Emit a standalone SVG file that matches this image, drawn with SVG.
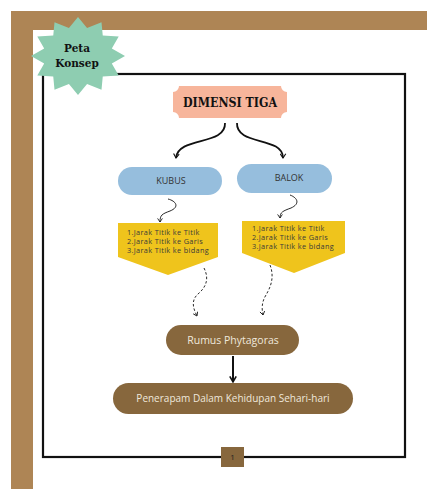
<svg xmlns="http://www.w3.org/2000/svg" width="427" height="489" viewBox="0 0 427 489">
<style>
.frame{fill:#AE8555}
.box{fill:none;stroke:#111;stroke-width:2.2}
.pill-blue{fill:#96BEDD}
.yellow{fill:#EFC41C}
.brown{fill:#87673D}
.lbl{font-family:"Open Sans","Noto Sans",sans-serif;text-anchor:middle}
.blue-t{font-size:9px;fill:#333}
.yt{font-family:"Open Sans","Noto Sans",sans-serif;font-size:7.3px;letter-spacing:0.35px;fill:#3a3a3a}
.brown-t{fill:#EFE8DC}
.conn{fill:none;stroke:#111}
</style>
<defs>
<marker id="chev" viewBox="0 0 10 10" refX="7" refY="5" markerWidth="7" markerHeight="7" orient="auto" markerUnits="userSpaceOnUse">
<path d="M1,1 L7,5 L1,9" fill="none" stroke="#111" stroke-width="1.6"/>
</marker>
<marker id="chevs" viewBox="0 0 10 10" refX="7" refY="5" markerWidth="6" markerHeight="6" orient="auto" markerUnits="userSpaceOnUse">
<path d="M1,1 L7,5 L1,9" fill="none" stroke="#111" stroke-width="1.4"/>
</marker>
<marker id="tri" viewBox="0 0 10 10" refX="8" refY="5" markerWidth="8" markerHeight="8" orient="auto" markerUnits="userSpaceOnUse">
<path d="M1,1 L8,5 L1,9" fill="none" stroke="#111" stroke-width="2"/>
</marker>
</defs>
<rect width="427" height="489" fill="#fff"/>
<g id="frame">
<rect class="frame" x="11" y="11" width="416" height="19"/>
<rect class="frame" x="11" y="11" width="22" height="478"/>
<rect class="box" x="43" y="74" width="362" height="383"/>
</g>
<g id="badge">
<polygon fill="#8ECDB1" points="78,17 87.06,27.99 101.5,22.23 102.75,35.49 118.7,36.5 111.81,48.49 125,56 111.81,63.51 118.7,75.5 102.75,76.51 101.5,89.77 87.06,84.01 78,95 68.94,84.01 54.5,89.77 53.25,76.51 37.3,75.5 44.19,63.51 31,56 44.19,48.49 37.3,36.5 53.25,35.49 54.5,22.23 68.94,27.99"/>
<text x="77" y="52" font-family="DejaVu Serif,serif" font-weight="bold" font-size="10.5" text-anchor="middle" fill="#111">Peta</text>
<text x="77" y="67" font-family="DejaVu Serif,serif" font-weight="bold" font-size="10.5" text-anchor="middle" fill="#111">Konsep</text>
</g>
<g id="connectors">
<path class="conn" stroke-width="1.8" d="M225,123 C226,146 178,136 176,158" marker-end="url(#chev)"/>
<path class="conn" stroke-width="1.8" d="M237,123 C236,146 283,136 283,158" marker-end="url(#chev)"/>
<path class="conn" stroke-width="0.9" d="M168,199 C176,201 180,207 170,211 C162,214 160,215 160,222" marker-end="url(#chevs)"/>
<path class="conn" stroke-width="0.9" d="M290,195 C298,198 300,204 291,208 C283,211 280,212 280,218" marker-end="url(#chevs)"/>
<path class="conn" stroke-width="0.9" stroke-dasharray="2.5,2" d="M204,268 C210,280 205,288 198,294 C190,301 194,310 197,316" marker-end="url(#chevs)"/>
<path class="conn" stroke-width="0.9" stroke-dasharray="2.5,2" d="M270,265 C275,278 270,288 266,295 C261,303 262,310 263,315" marker-end="url(#chevs)"/>
<path class="conn" stroke-width="2" d="M233,356 L233,382" marker-end="url(#tri)"/>
</g>
<g id="dimensi">
<path fill="#F7B59B" d="M179,86 H281 A6,6 0 0 0 287,92 V112 A6,6 0 0 0 281,118 H179 A6,6 0 0 0 173,112 V92 A6,6 0 0 0 179,86 Z"/>
<text x="230" y="107" font-family="DejaVu Serif,serif" font-weight="bold" font-size="12" text-anchor="middle" fill="#111" textLength="94" lengthAdjust="spacingAndGlyphs">DIMENSI TIGA</text>
</g>
<g id="kubus">
<rect class="pill-blue" x="118" y="167" width="104" height="28" rx="14"/>
<text class="lbl blue-t" x="171" y="184">KUBUS</text>
</g>
<g id="balok">
<rect class="pill-blue" x="237" y="164" width="95" height="29" rx="14.5"/>
<text class="lbl blue-t" x="289" y="181">BALOK</text>
</g>
<g id="kubus-list">
<polygon class="yellow" points="118,223 218,223 218,257 168,275 118,257"/>
<text class="yt" x="127" y="235">1.Jarak Titik ke Titik</text>
<text class="yt" x="127" y="244">2.Jarak Titik ke Garis</text>
<text class="yt" x="127" y="253">3.Jarak Titik ke bidang</text>
</g>
<g id="balok-list">
<polygon class="yellow" points="242,221 345,221 345,253 294,273 242,253"/>
<text class="yt" x="252" y="231">1.Jarak Titik ke Titik</text>
<text class="yt" x="252" y="240">2.Jarak Titik ke Garis</text>
<text class="yt" x="252" y="249">3.Jarak Titik ke bidang</text>
</g>
<g id="rumus">
<rect class="brown" x="166" y="325" width="133" height="30" rx="15"/>
<text class="lbl brown-t" x="233" y="344" font-size="10.5">Rumus Phytagoras</text>
</g>
<g id="penerapan">
<rect class="brown" x="113" y="383" width="240" height="31" rx="15.5"/>
<text class="lbl brown-t" x="233" y="402" font-size="10">Penerapam Dalam Kehidupan Sehari-hari</text>
</g>
<g id="page">
<rect class="brown" x="221" y="447" width="23" height="20"/>
<text x="232.5" y="460" font-family="Open Sans,sans-serif" font-size="8" text-anchor="middle" fill="#222">1</text>
</g>
</svg>
